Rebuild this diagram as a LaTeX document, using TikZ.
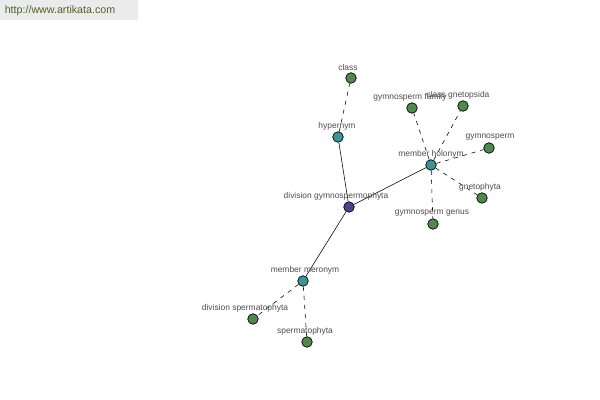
\documentclass[tikz,border=0pt]{standalone}
\usepackage{fontspec}
\setmainfont{Liberation Sans}
\usepackage{tikz}

\definecolor{leafgreen}{HTML}{4E8A4A}
\definecolor{relteal}{HTML}{3A9595}
\definecolor{rootblue}{HTML}{454592}
\definecolor{marktext}{HTML}{4F6228}

\tikzset{
  vtx/.style={circle, draw=black, line width=0.5pt, minimum size=7.5pt, inner sep=0pt},
  leaf/.style={vtx, fill=leafgreen},
  rel/.style={vtx, fill=relteal},
  root/.style={vtx, fill=rootblue},
  lbl/.style={font=\fontsize{6}{7}\selectfont, text=black!70, inner sep=1pt},
  solidedge/.style={line width=0.4pt},
  dashedge/.style={line width=0.4pt, dash pattern=on 3pt off 3.5pt}
}

\begin{document}
\begin{tikzpicture}[x=0.025cm, y=-0.025cm]
\useasboundingbox (0,0) rectangle (600,400);
\fill[black!8] (0,0) rectangle (138,20);
\node[font=\fontsize{7.6}{8}\selectfont, text=marktext] (site) at (60,11) {http://www.artikata.com};

\node[root] (gym) at (349,207) {};
\node[rel] (hyper) at (338,137) {};
\node[rel] (holo) at (431,165) {};
\node[rel] (mero) at (303,281) {};
\node[leaf] (class) at (351,78) {};
\node[leaf] (family) at (412,108) {};
\node[leaf] (gneto) at (463,106) {};
\node[leaf] (sperm) at (489,148) {};
\node[leaf] (gnphyta) at (482,198) {};
\node[leaf] (genus) at (433,224) {};
\node[leaf] (divsperm) at (253,319) {};
\node[leaf] (spphyta) at (307,342) {};

\draw[solidedge] (gym) -- (hyper);
\draw[solidedge] (gym) -- (holo);
\draw[solidedge] (gym) -- (mero);
\draw[dashedge] (hyper) -- (class);
\draw[dashedge] (holo) -- (family);
\draw[dashedge] (holo) -- (gneto);
\draw[dashedge] (holo) -- (sperm);
\draw[dashedge] (holo) -- (gnphyta);
\draw[dashedge] (holo) -- (genus);
\draw[dashedge] (mero) -- (divsperm);
\draw[dashedge] (mero) -- (spphyta);

\node[lbl] (tgym) at (336,196) {division gymnospermophyta};
\node[lbl] (thyper) at (337,126) {hypernym};
\node[lbl] (tholo) at (431,154) {member holonym};
\node[lbl] (tmero) at (305,270) {member meronym};
\node[lbl] (tclass) at (348,67) {class};
\node[lbl] (tfamily) at (410,97) {gymnosperm family};
\node[lbl] (tgneto) at (458,95) {class gnetopsida};
\node[lbl] (tsperm) at (490,137) {gymnosperm};
\node[lbl] (tgnphyta) at (480,187) {gnetophyta};
\node[lbl] (tgenus) at (432,213) {gymnosperm genus};
\node[lbl] (tdivsperm) at (245,308) {division spermatophyta};
\node[lbl] (tspphyta) at (305,331) {spermatophyta};
\end{tikzpicture}
\end{document}
